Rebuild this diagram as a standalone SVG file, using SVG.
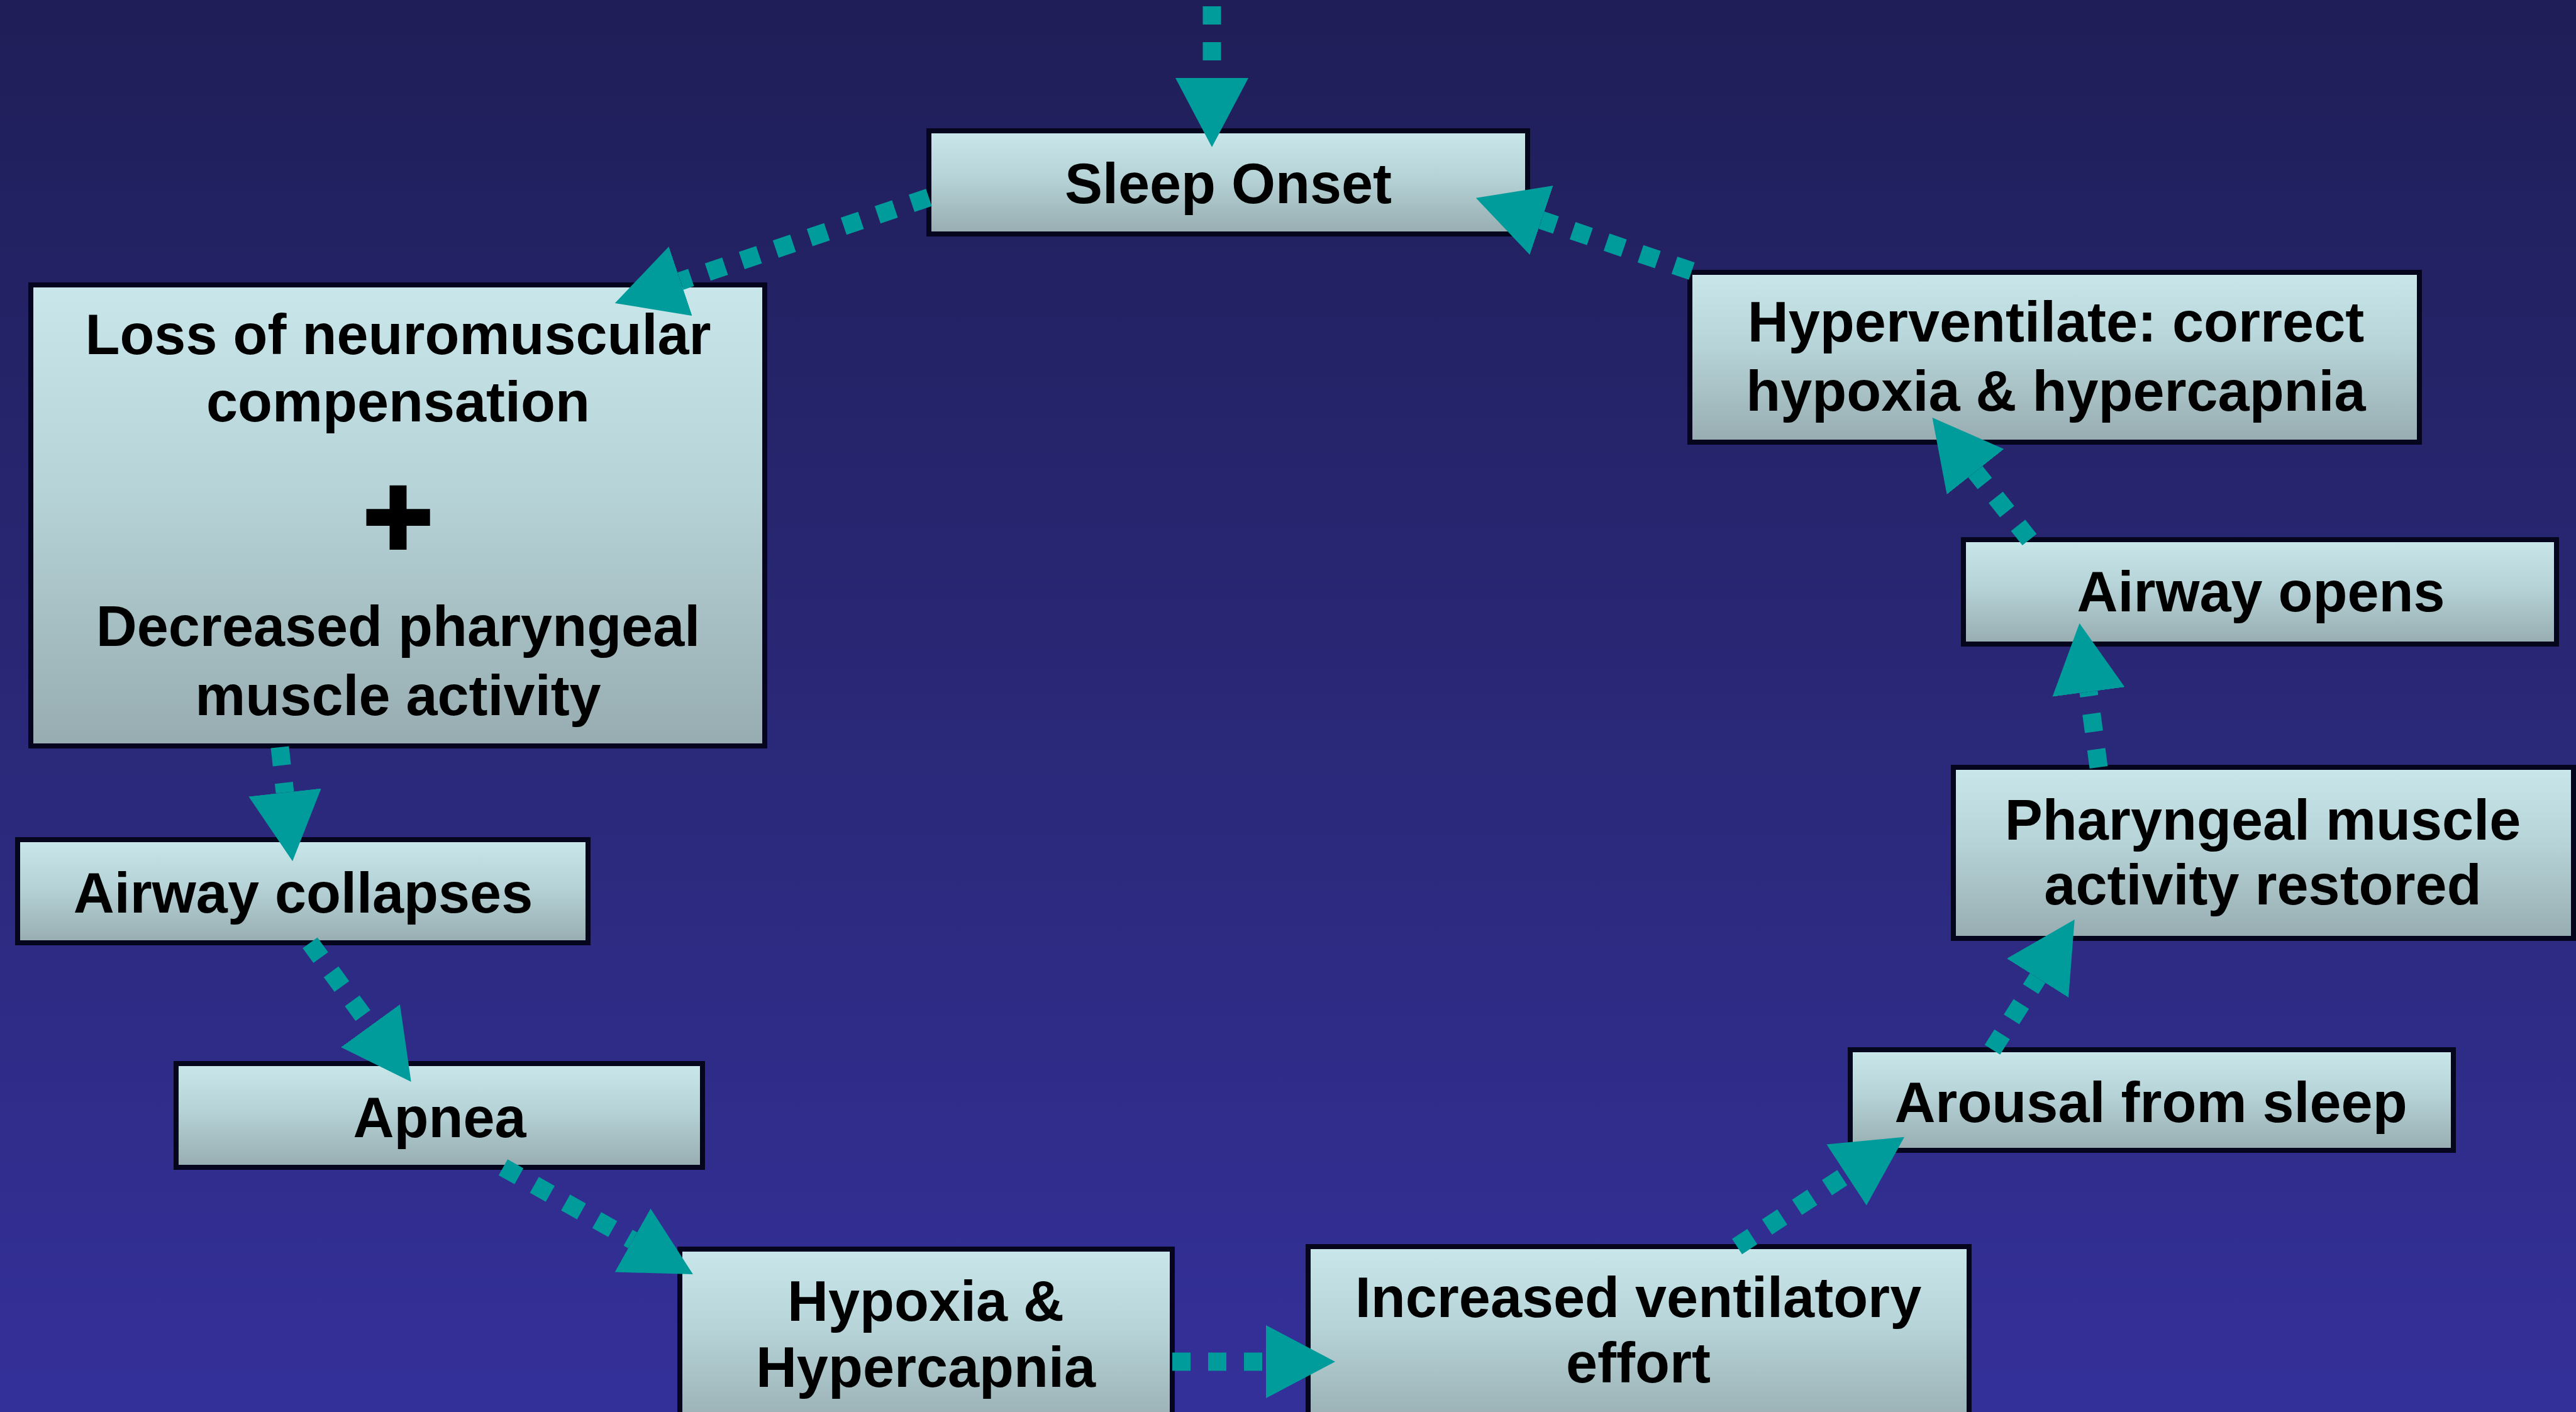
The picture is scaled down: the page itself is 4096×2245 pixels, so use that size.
<svg xmlns="http://www.w3.org/2000/svg" width="4096" height="2245" viewBox="0 0 4096 2245">
<defs>
<linearGradient id="bg" x1="0" y1="0" x2="0" y2="1">
<stop offset="0" stop-color="#1f1e58"/>
<stop offset="0.5" stop-color="#2a2877"/>
<stop offset="1" stop-color="#34309a"/>
</linearGradient>
<linearGradient id="boxfill" x1="0" y1="0" x2="0" y2="1">
<stop offset="0" stop-color="#c9e7eb"/>
<stop offset="0.45" stop-color="#b6d3d7"/>
<stop offset="1" stop-color="#97acb0"/>
</linearGradient>
<marker id="ah" markerUnits="userSpaceOnUse" viewBox="0 0 110 116" markerWidth="110" markerHeight="116" refX="0" refY="58" orient="auto">
<path d="M0,0 L110,58 L0,116 Z" fill="#009c9c"/>
</marker>
<style>
.box{fill:url(#boxfill);stroke:#05051e;stroke-width:8}
.lbl{font-family:"Liberation Sans",Arial,Helvetica,sans-serif;font-weight:bold;font-size:90px;fill:#000;text-anchor:middle}
.plus{font-family:"Liberation Sans",Arial,Helvetica,sans-serif;font-weight:bold;font-size:190px;fill:#000;stroke:#000;stroke-width:6;text-anchor:middle}
.conn{fill:none;stroke:#009c9c;stroke-width:29;stroke-dasharray:29 28;marker-end:url(#ah)}
</style>
</defs>
<rect x="0" y="0" width="4096" height="2245" fill="url(#bg)"/>

<g id="node-sleep-onset">
<rect class="box" x="1477" y="208" width="952" height="164"/>
<text class="lbl" x="1953" y="323">Sleep Onset</text>
</g>

<g id="node-loss">
<rect class="box" x="49" y="453" width="1167" height="733"/>
<text class="lbl" x="633" y="563">Loss of neuromuscular</text>
<text class="lbl" x="633" y="670">compensation</text>
<text class="plus" x="633" y="886">+</text>
<text class="lbl" x="633" y="1027">Decreased pharyngeal</text>
<text class="lbl" x="633" y="1137">muscle activity</text>
</g>

<g id="node-airway-collapses">
<rect class="box" x="28" y="1335" width="907" height="164"/>
<text class="lbl" x="482" y="1451">Airway collapses</text>
</g>

<g id="node-apnea">
<rect class="box" x="280" y="1691" width="837" height="165"/>
<text class="lbl" x="699" y="1808">Apnea</text>
</g>

<g id="node-hypoxia">
<rect class="box" x="1081" y="1986" width="783" height="290"/>
<text class="lbl" x="1472" y="2100">Hypoxia &amp;</text>
<text class="lbl" x="1472" y="2205">Hypercapnia</text>
</g>

<g id="node-increased-effort">
<rect class="box" x="2080" y="1982" width="1051" height="290"/>
<text class="lbl" x="2605" y="2094">Increased ventilatory</text>
<text class="lbl" x="2605" y="2198">effort</text>
</g>

<g id="node-arousal">
<rect class="box" x="2942" y="1669" width="959" height="160"/>
<text class="lbl" x="3420" y="1784">Arousal from sleep</text>
</g>

<g id="node-pharyngeal-restored">
<rect class="box" x="3106" y="1220" width="986" height="272"/>
<text class="lbl" x="3598" y="1335">Pharyngeal muscle</text>
<text class="lbl" x="3598" y="1438">activity restored</text>
</g>

<g id="node-airway-opens">
<rect class="box" x="3122" y="858" width="943" height="166"/>
<text class="lbl" x="3595" y="972">Airway opens</text>
</g>

<g id="node-hyperventilate">
<rect class="box" x="2687" y="433" width="1160" height="270"/>
<text class="lbl" x="3269" y="543">Hyperventilate: correct</text>
<text class="lbl" x="3269" y="653">hypoxia &amp; hypercapnia</text>
</g>

<g id="connectors">
<path class="conn" d="M1927,10 L1927,124"/>
<path class="conn" d="M1477,314 L1082,447"/>
<path class="conn" d="M445,1188 L453,1260"/>
<path class="conn" d="M493,1499 L589,1631"/>
<path class="conn" d="M800,1856 L1006,1972"/>
<path class="conn" d="M1864,2165 L2013,2165"/>
<path class="conn" d="M2762,1982 L2936,1868"/>
<path class="conn" d="M3168,1669 L3240,1555"/>
<path class="conn" d="M3337,1220 L3321,1100"/>
<path class="conn" d="M3227,858 L3141,750"/>
<path class="conn" d="M2690,431 L2451,350"/>
</g>
</svg>
